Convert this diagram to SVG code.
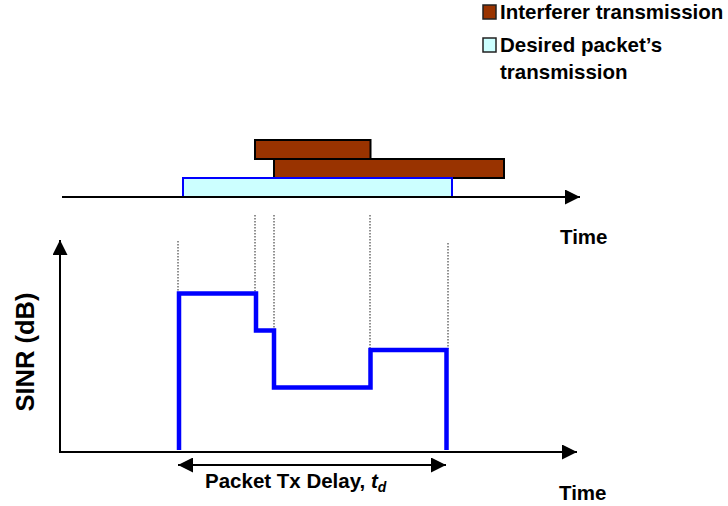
<svg xmlns="http://www.w3.org/2000/svg" width="728" height="506" viewBox="0 0 728 506">
<style>
text{font-family:"Liberation Sans",Arial,sans-serif;font-weight:bold;fill:#000}
.lbl{font-size:20.5px}
.axis{stroke:#000;stroke-width:2;fill:none}
.dot{stroke:#222;stroke-width:1;stroke-dasharray:1.5,1.5;fill:none}
.intf{fill:#993300;stroke:#000;stroke-width:2}
.desired{fill:#CCFFFF;stroke:#0000FF;stroke-width:2}
.sinr{stroke:#0000FF;stroke-width:4.5;fill:none;stroke-linejoin:miter}
</style>
<defs>
<marker id="ah" viewBox="0 0 10 10" refX="10" refY="5" markerWidth="7.5" markerHeight="7.5" orient="auto-start-reverse" markerUnits="strokeWidth">
<path d="M0,0L10,5L0,10z" fill="#000"/>
</marker>
</defs>
<g id="legend">
<rect x="483" y="5" width="13" height="14" fill="#993300" stroke="#222" stroke-width="1.5"/>
<text class="lbl" x="500" y="19">Interferer transmission</text>
<rect x="483" y="38" width="13" height="14" fill="#CCFFFF" stroke="#222" stroke-width="1.5"/>
<text class="lbl" x="500" y="52">Desired packet’s</text>
<text class="lbl" x="500" y="79">transmission</text>
</g>
<g id="transmissions">
<rect id="interferer1" class="intf" x="255" y="140" width="115.5" height="19"/>
<rect id="interferer2" class="intf" x="274" y="159" width="230" height="19"/>
<rect id="desired" class="desired" x="183" y="178" width="269" height="19"/>
</g>
<g id="connectors">
<line class="axis" x1="62" y1="197" x2="580" y2="197" marker-end="url(#ah)"/>
<line class="axis" x1="60" y1="452" x2="60" y2="240" marker-end="url(#ah)"/>
<line class="axis" x1="59" y1="452" x2="577" y2="452" marker-end="url(#ah)"/>
<line class="axis" x1="178" y1="465" x2="446" y2="465" marker-start="url(#ah)" marker-end="url(#ah)"/>
<line class="dot" x1="178" y1="241" x2="178" y2="292"/>
<line class="dot" x1="255" y1="215" x2="255" y2="292"/>
<line class="dot" x1="274" y1="215" x2="274" y2="330"/>
<line class="dot" x1="370" y1="215" x2="370" y2="349"/>
<line class="dot" x1="448" y1="243" x2="448" y2="349"/>
</g>
<g id="sinr-curve">
<polyline class="sinr" points="179,450 179,293.5 256,293.5 256,330.5 274,330.5 274,387.5 370.5,387.5 370.5,350 446.5,350 446.5,450"/>
</g>
<g id="labels">
<text class="lbl" x="560" y="244">Time</text>
<text class="lbl" x="559" y="500">Time</text>
<text class="lbl" x="205" y="488">Packet Tx Delay, <tspan font-style="italic">t</tspan><tspan font-style="italic" font-size="14" dy="4">d</tspan></text>
<text x="0" y="0" font-size="25.5" text-anchor="middle" transform="translate(34,352) rotate(-90)">SINR (dB)</text>
</g>
</svg>
